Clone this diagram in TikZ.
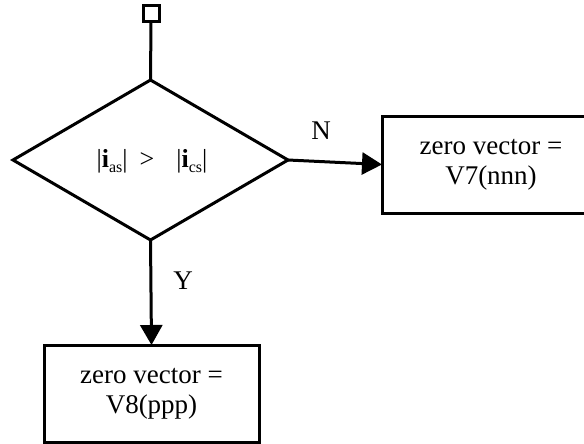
\documentclass[tikz,border=0pt]{standalone}
\usepackage{fontspec}
\setmainfont{Liberation Serif}
\usetikzlibrary{shapes.geometric,arrows.meta}
\newcommand{\subtxt}[1]{\raisebox{-5pt}{\fontsize{16}{16}\selectfont #1}}
\begin{document}
\begin{tikzpicture}[x=1pt,y=-1pt,
  lw/.style={line width=3pt},
  box/.style={draw,lw,rectangle,inner sep=0pt,outer sep=0pt},
  txt/.style={font=\fontsize{27}{30}\selectfont,align=center},
  arr/.style={lw,-{Triangle[length=20pt,width=22pt]}},
]
\useasboundingbox (0,0) rectangle (584,444);
\clip (0,0) rectangle (584,444);
\node[box,minimum width=16pt,minimum height=16pt] (start) at (151,14) {};
\node[draw,lw,diamond,minimum width=275pt,minimum height=160pt,inner sep=0pt,outer sep=0pt] (dec) at (150.5,160) {};
\node[font=\fontsize{26}{28}\selectfont] (cond) at (152,161) {|\textbf{i}\subtxt{as}|\hspace{12pt}>\hspace{22pt}|\textbf{i}\subtxt{cs}|};
\node[box,txt,minimum width=218pt,minimum height=97pt] (b7) at (491,164.5) {zero vector =\\V7(nnn)};
\node[box,txt,minimum width=215pt,minimum height=97pt] (b8) at (151.5,393.5) {zero vector =\\V8(ppp)};
\draw[lw] (start.south) -- (dec.north);
\draw[arr] (dec.east) -- (b7.west);
\draw[arr] (dec.south) -- (b8.north);
\node[txt] (n) at (321,131) {N};
\node[txt] (y) at (183,281) {Y};
\end{tikzpicture}
\end{document}
